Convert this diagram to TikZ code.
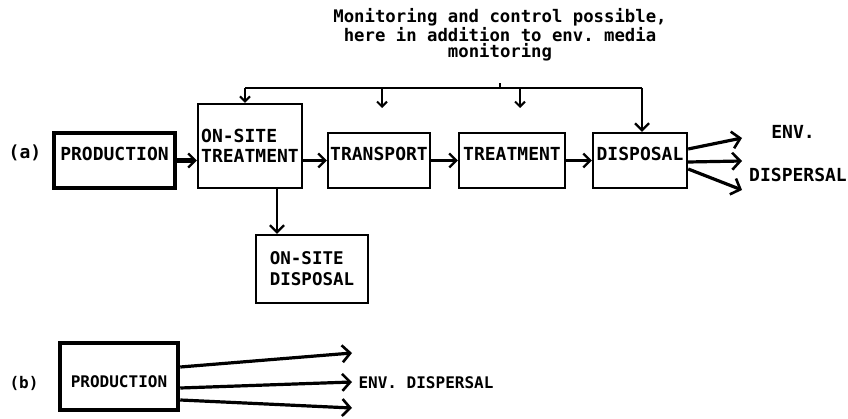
\documentclass[tikz,border=0pt]{standalone}
\usepackage{fontspec}
\setmonofont{DejaVu Sans Mono}
\usetikzlibrary{arrows.meta}

\tikzset{
  every node/.style={font=\fontsize{18}{20}\selectfont\ttfamily\bfseries},
  stage/.style={draw, line width=2.4pt, inner sep=0pt, align=left},
  oneline/.style={stage, text height=13pt, text depth=13pt},
  heavy/.style={stage, line width=4.5pt},
  lbl/.style={inner sep=0pt},
  small/.style={font=\fontsize{16}{18}\selectfont\ttfamily\bfseries},
  flow/.style={line width=2.2pt, -{Straight Barb[length=7pt,width=14pt,line width=2.2pt]}},
  feed/.style={line width=2pt, -{Straight Barb[length=5pt,width=10pt,line width=2pt]}},
  fan/.style={line width=3.2pt, -{Straight Barb[length=8pt,width=17pt,line width=2.6pt]}},
}

\begin{document}
\begin{tikzpicture}[x=1pt, y=-1pt]
\useasboundingbox (0,0) rectangle (848,419);

% (a) with treatment chain
\node[lbl] (tagA) at (25,153) {(a)};
\node[heavy, minimum width=121, minimum height=55, text height=13pt, text depth=13pt] (prodA) at (114.5,160.5) {PRODUCTION};
\node[stage, minimum width=104, minimum height=84] (onsite) at (250,146) {ON-SITE\\TREATMENT};
\node[oneline, minimum width=102, minimum height=55] (transport) at (379,160.5) {TRANSPORT};
\node[oneline, minimum width=106, minimum height=55] (treat) at (512,160.5) {TREATMENT};
\node[oneline, minimum width=94, minimum height=55] (disp) at (640,160.5) {DISPOSAL};
\node[stage, minimum width=112, minimum height=68, font=\fontsize{17.5}{21}\selectfont\ttfamily\bfseries] (onsitedisp) at (312,269) {ON-SITE\\DISPOSAL};
\node[lbl] (envA) at (793,132) {ENV.};
\node[lbl] (dispersalA) at (798,175) {DISPERSAL};

\node[lbl, align=center, font=\fontsize{17.3}{16}\selectfont\ttfamily\bfseries] (note) at (500,34.5)
  {Monitoring and control possible,\\here in addition to env. media\\monitoring};

\draw[flow, line width=5pt] (prodA.east) -- (prodA.east -| onsite.west);
\draw[flow] (onsite.east |- transport) -- (transport.west);
\draw[flow] (transport) -- (treat);
\draw[flow] (treat) -- (disp);
\draw[flow] ([xshift=27pt]onsite.south) -- ([xshift=27pt]onsite.south |- onsitedisp.north);

% monitoring bus
\coordinate (busL) at (245,88);
\coordinate (busR) at (642,88);
\coordinate (busM) at (500,88);
\coordinate (tapT) at (382,88);
\coordinate (tapR) at (520,88);
\draw[line width=2.2pt] (busL) -- (busR);
\draw[line width=2pt] (busM) -- ++(0,-5);
\draw[feed] (busL) -- (busL |- onsite.north);
\draw[feed] (tapT) -- ++(0,20);
\draw[feed] (tapR) -- ++(0,20);
\draw[flow] (busR) -- (busR |- disp.north);

\coordinate (endA1) at (742,138);
\coordinate (endA2) at (742,161);
\coordinate (endA3) at (742,190);
\draw[fan] ([yshift=11.5pt]disp.east) -- (endA1);
\draw[fan] ([yshift=-1.5pt]disp.east) -- (endA2);
\draw[fan] ([yshift=-8.5pt]disp.east) -- (endA3);

% (b) without treatment
\node[lbl, small] (tagB) at (24,383) {(b)};
\node[heavy, small, minimum width=118, minimum height=67, text height=22pt, text depth=0pt] (prodB) at (119,376.5) {PRODUCTION};
\node[lbl, small] (dispersalB) at (426,383) {ENV. DISPERSAL};

\coordinate (endB1) at (352,353);
\coordinate (endB2) at (352,382);
\coordinate (endB3) at (352,408);
\draw[fan] ([yshift=9.5pt]prodB.east) -- (endB1);
\draw[fan] ([yshift=-11.5pt]prodB.east) -- (endB2);
\draw[fan] ([yshift=-23.5pt]prodB.east) -- (endB3);
\end{tikzpicture}
\end{document}
